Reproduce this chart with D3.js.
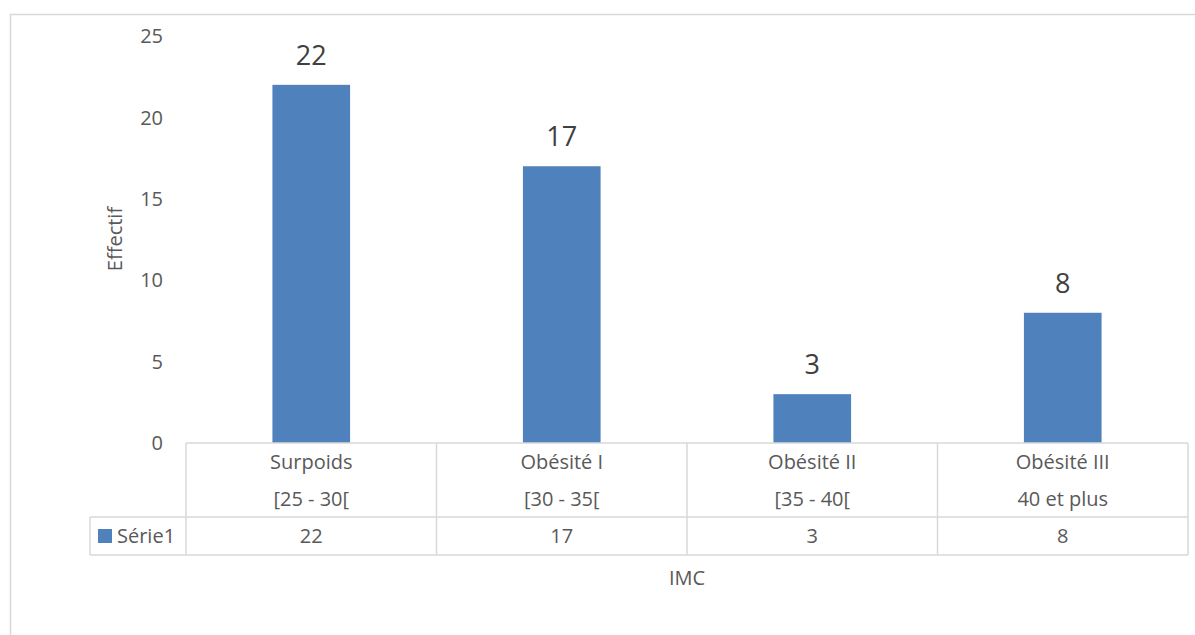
<!DOCTYPE html>
<html>
<head>
<meta charset="utf-8">
<script src="https://cdn.jsdelivr.net/npm/d3@7"></script>
<style>
  body { margin: 0; background: #fff; }
  text { font-family: "Open Sans", "Liberation Sans", sans-serif; }
</style>
</head>
<body>
<svg id="canvas" width="1195" height="635"></svg>
<script>
// data
let categories = ['Surpoids', 'Obésité I', 'Obésité II', 'Obésité III']
let ranges = ['[25 - 30[', '[30 - 35[', '[35 - 40[', '40 et plus']
let values = [22, 17, 3, 8]
let yTicks = [0, 5, 10, 15, 20, 25]
let seriesName = 'Série1'

let svg = d3.select('#canvas')
let grey = '#d9d9d9'
let fs = 20

// outer chart border (runs off the right and bottom of the window)
svg.append('rect')
  .attr('x', 10.5).attr('y', 14.5)
  .attr('width', 1300).attr('height', 700)
  .attr('fill', 'none').attr('stroke', grey).attr('stroke-width', 1.5)

let plotLeft = 186, plotRight = 1188, plotTop = 36, plotBottom = 443

let x = d3.scaleBand().domain(categories).range([plotLeft, plotRight]).paddingInner(0).paddingOuter(0)
let y = d3.scaleLinear().domain([0, 25]).range([plotBottom, plotTop])

let barW = x.bandwidth() * 0.31

// y tick labels (no axis line in the original)
svg.append('g').selectAll('text')
  .data(yTicks)
  .enter()
  .append('text')
  .attr('x', 163)
  .attr('y', d => y(d))
  .attr('dy', '0.36em')
  .attr('text-anchor', 'end')
  .attr('font-size', fs)
  .attr('fill', '#595959')
  .text(d => d)

// bars
svg.append('g').selectAll('rect')
  .data(values)
  .enter()
  .append('rect')
  .attr('x', (d, i) => x(categories[i]) + (x.bandwidth() - barW) / 2)
  .attr('y', d => y(d))
  .attr('width', barW)
  .attr('height', d => y(0) - y(d))
  .attr('fill', '#4f81bd')

// data labels
svg.append('g').selectAll('text')
  .data(values)
  .enter()
  .append('text')
  .attr('x', (d, i) => x(categories[i]) + x.bandwidth() / 2)
  .attr('y', d => y(d) - 20)
  .attr('text-anchor', 'middle')
  .attr('font-size', 27)
  .attr('fill', '#404040')
  .text(d => d)

// data table
let rowTop = plotBottom, rowMid = 517, rowBot = 555, legendLeft = 90
let table = svg.append('g').attr('stroke', grey).attr('stroke-width', 1.5).attr('fill', 'none')
table.append('line').attr('x1', plotLeft).attr('x2', plotRight).attr('y1', rowTop).attr('y2', rowTop)
table.append('line').attr('x1', legendLeft).attr('x2', plotRight).attr('y1', rowMid).attr('y2', rowMid)
table.append('line').attr('x1', legendLeft).attr('x2', plotRight).attr('y1', rowBot).attr('y2', rowBot)
table.append('line').attr('x1', legendLeft).attr('x2', legendLeft).attr('y1', rowMid).attr('y2', rowBot)
table.selectAll('line.v')
  .data(categories.map(c => x(c)).concat([plotRight]))
  .enter()
  .append('line')
  .attr('class', 'v')
  .attr('x1', d => d).attr('x2', d => d)
  .attr('y1', rowTop).attr('y2', rowBot)

let cells = svg.append('g').attr('font-size', fs).attr('fill', '#595959').attr('text-anchor', 'middle')
cells.selectAll('text.cat')
  .data(categories)
  .enter()
  .append('text')
  .attr('class', 'cat')
  .attr('x', d => x(d) + x.bandwidth() / 2)
  .attr('y', 469)
  .text(d => d)
cells.selectAll('text.rng')
  .data(ranges)
  .enter()
  .append('text')
  .attr('class', 'rng')
  .attr('x', (d, i) => x(categories[i]) + x.bandwidth() / 2)
  .attr('y', 506)
  .text(d => d)
cells.selectAll('text.val')
  .data(values)
  .enter()
  .append('text')
  .attr('class', 'val')
  .attr('x', (d, i) => x(categories[i]) + x.bandwidth() / 2)
  .attr('y', 543)
  .text(d => d)

// legend key in the table
svg.append('rect')
  .attr('x', 98).attr('y', 529).attr('width', 14).attr('height', 14)
  .attr('fill', '#4f81bd')
svg.append('text')
  .attr('x', 117).attr('y', 543)
  .attr('font-size', fs).attr('fill', '#595959')
  .text(seriesName)

// axis titles
svg.append('text')
  .attr('x', (plotLeft + plotRight) / 2).attr('y', 585)
  .attr('text-anchor', 'middle')
  .attr('font-size', fs).attr('fill', '#595959')
  .text('IMC')
svg.append('text')
  .attr('transform', 'translate(122,' + 239 + ') rotate(-90)')
  .attr('text-anchor', 'middle')
  .attr('font-size', fs).attr('fill', '#595959')
  .text('Effectif')
</script>
</body>
</html>
